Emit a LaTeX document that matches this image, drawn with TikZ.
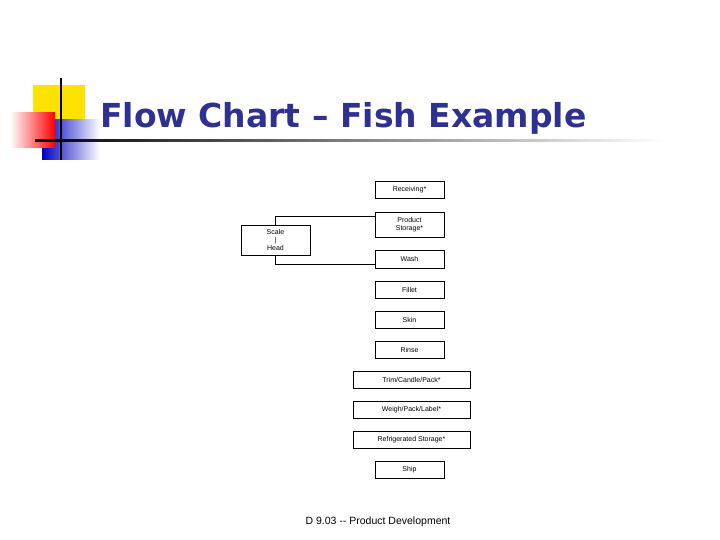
\documentclass[tikz,border=0pt]{standalone}
\usepackage{fontspec}
\setmainfont{Liberation Sans}
\newfontfamily\titlefont{DejaVu Sans}
\usetikzlibrary{positioning}
\definecolor{titleblue}{RGB}{46,49,146}
\begin{document}
\begin{tikzpicture}[x=1pt,y=-1pt,
  box/.style={draw,line width=0.6pt,inner sep=0pt,font=\fontsize{7}{8}\selectfont,align=center},
  conn/.style={line width=0.6pt}]
\useasboundingbox (0,0) rectangle (720,540);
% decoration
\fill[yellow!85!orange] (33,85) rectangle (85,135);
\shade[left color=blue!75!black,right color=white] (42,120) rectangle (100,160);
\shade[left color=white,right color=red] (10,113) rectangle (55,148);
\draw[line width=1.5pt] (61,78) -- (61,160);
\shade[left color=black,right color=white] (35,140) rectangle (665,142);
\node[anchor=base west,font=\titlefont\fontsize{33}{36}\selectfont\bfseries,text=titleblue,inner sep=0pt] (title) at (100,128) {Flow Chart – Fish Example};
% boxes
\node[box,minimum width=69pt,minimum height=17pt] (rec) at (409.5,189.5) {Receiving*};
\node[box,minimum width=69pt,minimum height=25pt] (ps) at (409.5,224.5) {Product\\Storage*};
\node[box,minimum width=69pt,minimum height=18pt] (wash) at (409.5,259) {Wash};
\node[box,minimum width=69pt,minimum height=17pt] (fil) at (409.5,289.5) {Fillet};
\node[box,minimum width=69pt,minimum height=17pt] (skin) at (409.5,319.5) {Skin};
\node[box,minimum width=69pt,minimum height=17pt] (rinse) at (409.5,349.5) {Rinse};
\node[box,minimum width=117pt,minimum height=17pt] (trim) at (411.5,379.5) {Trim/Candle/Pack*};
\node[box,minimum width=117pt,minimum height=17pt] (weigh) at (411.5,409.5) {Weigh/Pack/Label*};
\node[box,minimum width=117pt,minimum height=17pt] (ref) at (411.5,439.5) {Refrigerated Storage*};
\node[box,minimum width=69pt,minimum height=17pt] (ship) at (409.5,469.5) {Ship};
\node[box,minimum width=69pt,minimum height=30pt] (side) at (275.5,240) {Scale\\|\\Head};
\draw[conn] (side.north) -- (275.5,216) -- (ps.west |- 0,216);
\draw[conn] (side.south) -- (275.5,264) -- (wash.west |- 0,264);
\node[font=\fontsize{10.5}{12}\selectfont] (foot) at (378,522) {D 9.03 -{}- Product Development};
\end{tikzpicture}
\end{document}
